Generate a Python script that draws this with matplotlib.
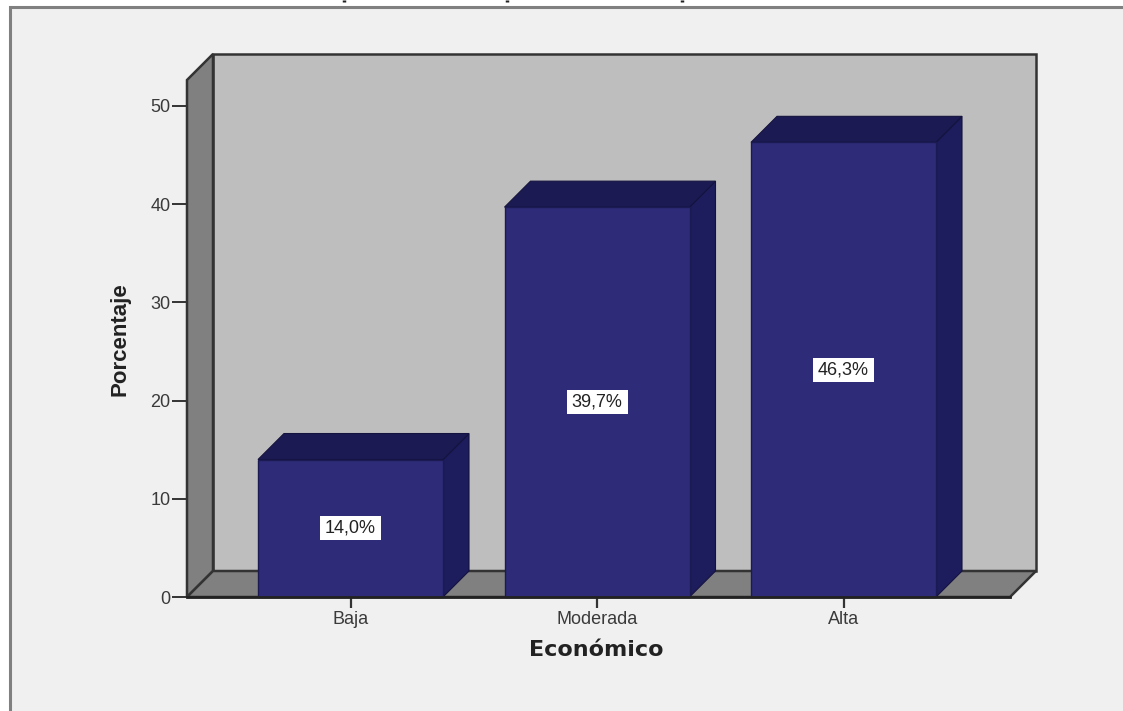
import matplotlib
matplotlib.use("Agg")
import matplotlib.pyplot as plt
from matplotlib.patches import Polygon, Rectangle

categories = ["Baja", "Moderada", "Alta"]
porcentajes = [14.0, 39.7, 46.3]
etiquetas = ["14,0%", "39,7%", "46,3%"]
y_ticks = [0, 10, 20, 30, 40, 50]

W, H = 1123, 711
PANEL = "#f0f0f0"
WALL = "#bebebe"
SIDE = "#808080"
FRONT = "#2e2c78"
TOP = "#1b1a52"
RIGHT = "#1d1c5c"
EDGE = "#333333"
TEXT = "#3a3a3a"

plt.rcParams["font.family"] = ["Liberation Sans", "DejaVu Sans"]

fig = plt.figure(figsize=(W / 100, H / 100), dpi=100, facecolor="white")

# grey panel behind the chart, in pixel coordinates
bg = fig.add_axes([0, 0, 1, 1])
bg.set_xlim(0, W)
bg.set_ylim(H, 0)
bg.axis("off")
bg.add_patch(Rectangle((10, 7), W - 10, H - 7, fc=PANEL, ec="none"))
bg.plot([10, 10, W], [H, 7, 7], color="#808080", lw=2.2, solid_joinstyle="miter")

# tails of the heading letters cut off by the top edge
for px in [344, 507, 682]:
    bg.plot([px, px], [0, 2], color="#222222", lw=2.5, solid_capstyle="butt")

# the axes cover the front plane of the box
left, right, bottom, top = 187, 1010, 597, 80
ax = fig.add_axes([left / W, 1 - bottom / H, (right - left) / W, (bottom - top) / H])
ax.patch.set_visible(False)
x_per_px = 1 / 246.5
y_per_px = 1 / 9.82
ax.set_xlim((left - 350.5) * x_per_px, (right - 350.5) * x_per_px)
ax.set_ylim(0, (bottom - top) * y_per_px)
dx = 26 * x_per_px
dy = 26 * y_per_px
x0, x1 = ax.get_xlim()
y1 = ax.get_ylim()[1]


def face(points, color, edge=EDGE, lw=1.2, z=1):
    ax.add_patch(Polygon(points, closed=True, fc=color, ec=edge, lw=lw, zorder=z,
                         joinstyle="miter", clip_on=False))


# back wall, side wall and floor
face([(x0 + dx, dy), (x1 + dx, dy), (x1 + dx, y1 + dy), (x0 + dx, y1 + dy)], WALL, lw=1.8)
face([(x0, 0), (x0 + dx, dy), (x0 + dx, y1 + dy), (x0, y1)], SIDE, lw=1.8)
face([(x0, 0), (x1, 0), (x1 + dx, dy), (x0 + dx, dy)], SIDE, lw=1.8)

# 3D bars
bar_w = 185 * x_per_px
for i, v in enumerate(porcentajes):
    l, r = i - bar_w / 2, i + bar_w / 2
    face([(r, 0), (r + dx, dy), (r + dx, v + dy), (r, v)], RIGHT, edge="#14133f", lw=0.8, z=2)
    face([(l, v), (r, v), (r + dx, v + dy), (l + dx, v + dy)], TOP, edge="#14133f", lw=0.8, z=2)
    face([(l, 0), (r, 0), (r, v), (l, v)], FRONT, edge="#1b1a52", lw=1.0, z=3)
    # white label box, wider than the text
    box_w, box_h = 61 * x_per_px, 24 * y_per_px
    ax.add_patch(Rectangle((i - box_w / 2, v / 2 - box_h / 2), box_w, box_h, fc="white", ec="none", zorder=4))
    ax.text(i, v / 2, etiquetas[i], ha="center", va="center", fontsize=13, color="#222222", zorder=5)

# floor front edge sits on top of the bars' base
ax.plot([x0, x1], [0, 0], color="#222222", lw=2.0, zorder=6, clip_on=False)

for side in ax.spines.values():
    side.set_visible(False)
ax.set_xticks(range(len(categories)), categories)
ax.set_yticks(y_ticks)
ax.tick_params(axis="y", length=11, width=1.4, color="#333333", labelsize=13, labelcolor=TEXT, pad=1)
ax.tick_params(axis="x", length=8, width=1.6, color="#333333", labelsize=13, labelcolor=TEXT, pad=2)

bg.text(120, 339, "Porcentaje", rotation=90, ha="center", va="center", fontsize=16, fontweight="bold", color="#222222")
bg.text(596, 650, "Económico", ha="center", va="center", fontsize=16, fontweight="bold", color="#222222",
        family="DejaVu Sans")

fig.savefig("out.png", dpi=100, facecolor="white")
